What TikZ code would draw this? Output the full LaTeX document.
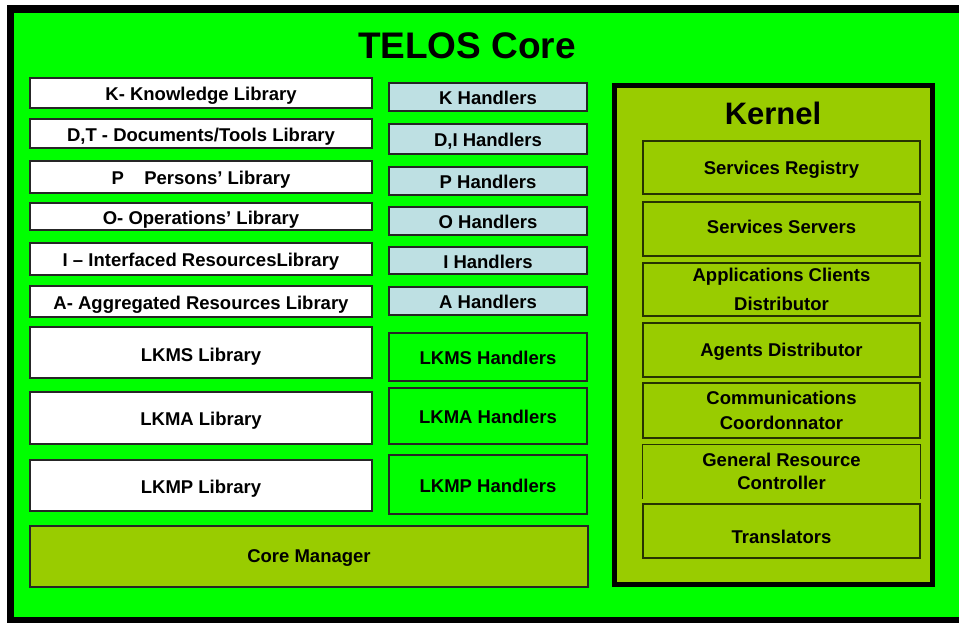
\documentclass[tikz,border=0pt]{standalone}
\usepackage{fontspec}
\setmainfont{Liberation Sans}
\definecolor{bg}{HTML}{00FF00}
\definecolor{olivefill}{HTML}{99CC00}
\definecolor{hblue}{HTML}{BEE0E3}
\begin{document}
\begin{tikzpicture}[x=1pt,y=-1pt,
  box/.style={draw=black!85, line width=1.3pt, inner sep=0pt, font=\bfseries\fontsize{18.5}{25}\selectfont, align=center},
  one/.style={text height=15.2pt, text depth=0pt},
  lib/.style={box, one, fill=white, minimum width=342pt},
  hand/.style={box, one, fill=hblue, minimum width=198pt},
  ghand/.style={box, one, fill=bg, minimum width=198pt},
  kbox/.style={box, fill=olivefill, draw=black!75!olivefill, minimum width=277pt},
  title/.style={font=\bfseries\fontsize{37}{40}\selectfont, inner sep=0pt}]
\useasboundingbox (0,0) rectangle (959,622);
\fill[white] (0,0) rectangle (959,622);
\fill[black] (7,5) rectangle (970,630);
\fill[bg] (14,13) rectangle (970,617);

\node[title] (core) at (467,46) {TELOS Core};

% libraries
\node[lib, minimum height=30pt] (lk) at (201,93) {K- Knowledge Library};
\node[lib, minimum height=29pt] (ldt) at (201,133.5) {D,T - Documents/Tools Library};
\node[lib, minimum height=32pt] (lp) at (201,177) {P\hspace{1.1em}Persons' Library};
\node[lib, minimum height=27pt] (lo) at (201,216.5) {O- Operations' Library};
\node[lib, minimum height=32pt] (li) at (201,259) {I -- Interfaced ResourcesLibrary};
\node[lib, minimum height=31pt] (la) at (201,301.5) {A- Aggregated Resources Library};
\node[lib, minimum height=51pt, text height=17.5pt] (llkms) at (201,352.5) {LKMS Library};
\node[lib, minimum height=52pt] (llkma) at (201,418) {LKMA Library};
\node[lib, minimum height=51pt] (llkmp) at (201,485.5) {LKMP Library};

% handlers
\node[hand, minimum height=28pt] (hk) at (488,97) {K Handlers};
\node[hand, minimum height=30pt] (hdi) at (488,139) {D,I Handlers};
\node[hand, minimum height=28pt] (hp) at (488,181) {P Handlers};
\node[hand, minimum height=28pt] (ho) at (488,221) {O Handlers};
\node[hand, minimum height=27pt] (hi) at (488,260.5) {I Handlers};
\node[hand, minimum height=28pt] (ha) at (488,301) {A Handlers};
\node[ghand, minimum height=48pt] (hlkms) at (488,357) {LKMS Handlers};
\node[ghand, minimum height=56pt] (hlkma) at (488,416) {LKMA Handlers};
\node[ghand, minimum height=59pt] (hlkmp) at (488,484.5) {LKMP Handlers};

% core manager
\node[box, one, fill=olivefill, minimum width=558pt, minimum height=61pt, text height=11pt] (cm) at (309,556.5) {Core Manager};

% kernel
\node[draw=black, line width=5pt, fill=olivefill, minimum width=318pt, minimum height=499pt, inner sep=0pt] (kernel) at (773.5,335) {};
\node[title, font=\bfseries\fontsize{31}{34}\selectfont] (ktitle) at (773,113) {Kernel};
\node[kbox, one, minimum height=53pt, text height=14pt] (sr) at (781.5,167.5) {Services Registry};
\node[kbox, minimum height=54pt, text height=13.25pt, text depth=5pt] (ss) at (781.5,229) {Services Servers};
\node[kbox, minimum height=53pt, font=\bfseries\fontsize{18.5}{28.5}\selectfont] (acd) at (781.5,289.5) {Applications Clients\\Distributor};
\node[kbox, one, minimum height=54pt, text height=13.5pt] (ad) at (781.5,350) {Agents Distributor};
\node[kbox, minimum height=55pt, font=\bfseries\fontsize{18.5}{24.5}\selectfont] (cc) at (781.5,410.5) {Communications\\Coordonnator};
\node[kbox, draw=none, minimum height=53pt, font=\bfseries\fontsize{18.5}{23}\selectfont] (grc) at (781.5,471.5) {General Resource\\Controller};
\draw[draw=black!75!olivefill, line width=1.3pt] (grc.south west) -- (grc.north west) -- (grc.north east) -- (grc.south east);
\node[kbox, one, minimum height=54pt, text height=25pt] (tr) at (781.5,531) {Translators};
\end{tikzpicture}
\end{document}
